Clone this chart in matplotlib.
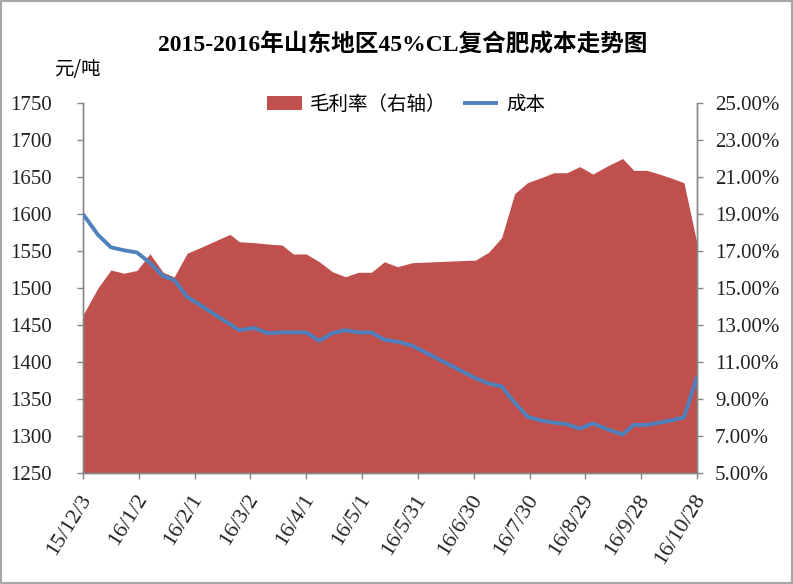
import matplotlib
matplotlib.use('Agg')
import matplotlib.pyplot as plt
import matplotlib.ticker as mticker
import matplotlib.transforms as mtransforms
from matplotlib.patches import Rectangle
import pandas as pd

# ---------------- data ----------------
dates = ["2015-12-03", "2015-12-11", "2015-12-18", "2015-12-25", "2016-01-01",
         "2016-01-08", "2016-01-15", "2016-01-21", "2016-01-28", "2016-02-04",
         "2016-02-20", "2016-02-25", "2016-03-04", "2016-03-11", "2016-03-19",
         "2016-03-25", "2016-04-01", "2016-04-08", "2016-04-15", "2016-04-22",
         "2016-04-29", "2016-05-06", "2016-05-13", "2016-05-20", "2016-05-28",
         "2016-07-01", "2016-07-08", "2016-07-15", "2016-07-22", "2016-07-29",
         "2016-08-05", "2016-08-12", "2016-08-19", "2016-08-26", "2016-09-02",
         "2016-09-10", "2016-09-18", "2016-09-24", "2016-10-01", "2016-10-08",
         "2016-10-14", "2016-10-21", "2016-10-28"]

cost = [1600, 1572, 1555, 1551, 1548, 1534, 1516, 1511, 1488, 1477,
        1451, 1443, 1446, 1439, 1440, 1440, 1440, 1428.5, 1439, 1443,
        1440, 1440, 1430, 1427.5, 1422, 1378, 1371, 1367, 1345, 1326,
        1321, 1318, 1316, 1310, 1317, 1309, 1302, 1315, 1315, 1318,
        1321, 1325, 1380]

margin = [13.54, 15.0, 15.97, 15.8, 15.95, 16.85, 15.85, 15.6, 16.88, 17.18,
          17.9, 17.5, 17.45, 17.38, 17.32, 16.84, 16.84, 16.42, 15.88, 15.61,
          15.85, 15.85, 16.42, 16.15, 16.37, 16.51, 16.93, 17.72, 20.1, 20.7,
          20.95, 21.23, 21.23, 21.56, 21.16, 21.6, 22.0, 21.36, 21.36, 21.15,
          20.95, 20.69, 17.4]

tick_labels = ["15/12/3", "16/1/2", "16/2/1", "16/3/2", "16/4/1", "16/5/1",
               "16/5/31", "16/6/30", "16/7/30", "16/8/29", "16/9/28", "16/10/28"]

left_ticks = [1250, 1300, 1350, 1400, 1450, 1500, 1550, 1600, 1650, 1700, 1750]
right_ticks = [5, 7, 9, 11, 13, 15, 17, 19, 21, 23, 25]

title = "2015-2016年山东地区45%CL复合肥成本走势图"
unit_label = "元/吨"
series_names = ["毛利率（右轴）", "成本"]

# ---------------- style ----------------
RED = '#C0504D'
BLUE = '#4F81BD'
GRAY = '#868686'
SERIF = ['Liberation Serif', 'Noto Sans CJK SC']
CJK = ['Noto Sans CJK SC', 'DejaVu Sans']

plt.rcParams['font.family'] = SERIF

fig = plt.figure(figsize=(7.93, 5.84), dpi=100)
ax = fig.add_axes([83 / 793, 1 - 473 / 584, 614 / 793, 370 / 584])
ax2 = ax.twinx()

x = pd.to_datetime(dates)
ax2.fill_between(x, margin, right_ticks[0], color=RED, lw=0, zorder=1,
                 label=series_names[0])
line, = ax.plot(x, cost, color=BLUE, lw=2.8, solid_joinstyle='round',
                solid_capstyle='butt', label=series_names[1], zorder=3)

ax.set_zorder(ax2.get_zorder() + 1)
ax.patch.set_visible(False)

tick_dates = pd.to_datetime(tick_labels, format='%y/%m/%d')
ax.set_xlim(tick_dates[0], tick_dates[-1])
ax.set_ylim(left_ticks[0], left_ticks[-1])
ax2.set_ylim(right_ticks[0], right_ticks[-1])

ax.set_xticks(tick_dates)
ax.set_xticklabels(tick_labels)
ax.set_yticks(left_ticks)
ax2.set_yticks(right_ticks)
ax2.yaxis.set_major_formatter(mticker.FuncFormatter(lambda v, p: f"{v:.2f}%"))

for a in (ax, ax2):
    a.spines['top'].set_visible(False)
    for s in ('left', 'right', 'bottom'):
        a.spines[s].set_color(GRAY)
        a.spines[s].set_linewidth(1.0)

ax.tick_params(axis='y', direction='out', length=4.5, width=1, color=GRAY,
               labelsize=15, pad=18, labelcolor='#222222')
ax2.tick_params(axis='y', direction='out', length=4.5, width=1, color=GRAY,
                labelsize=15, pad=8.5, labelcolor='#222222')
ax.tick_params(axis='x', direction='out', length=4.5, width=1, color=GRAY,
               labelsize=16, pad=12, labelcolor='#222222')
offset = mtransforms.ScaledTranslation(3 / 72, 0, fig.dpi_scale_trans)
for lab in ax.get_xticklabels():
    lab.set_rotation(58)
    lab.set_ha('right')
    lab.set_va('center')
    lab.set_rotation_mode('anchor')
    lab.set_transform(lab.get_transform() + offset)

# legend
handles = [ax2.collections[0], line]
leg = ax.legend(handles, series_names, loc='center', bbox_to_anchor=(0.526, 0.997),
                ncol=2, frameon=False, prop={'family': CJK, 'size': 14},
                handlelength=1.8, handleheight=0.7, handletextpad=0.4,
                columnspacing=0.9, borderaxespad=0)

fig.text(0.508, 1 - 45 / 584, title, ha='center', va='center', fontsize=17,
         fontweight='bold', family=SERIF)
fig.text(77 / 793, 1 - 69 / 584, unit_label, ha='center', va='center',
         fontsize=14, family=CJK)

fig.patches.append(Rectangle((0, 0), 1, 1, transform=fig.transFigure,
                             fill=False, edgecolor='#A6A6A6', lw=3))

fig.savefig('out.png', dpi=100)
